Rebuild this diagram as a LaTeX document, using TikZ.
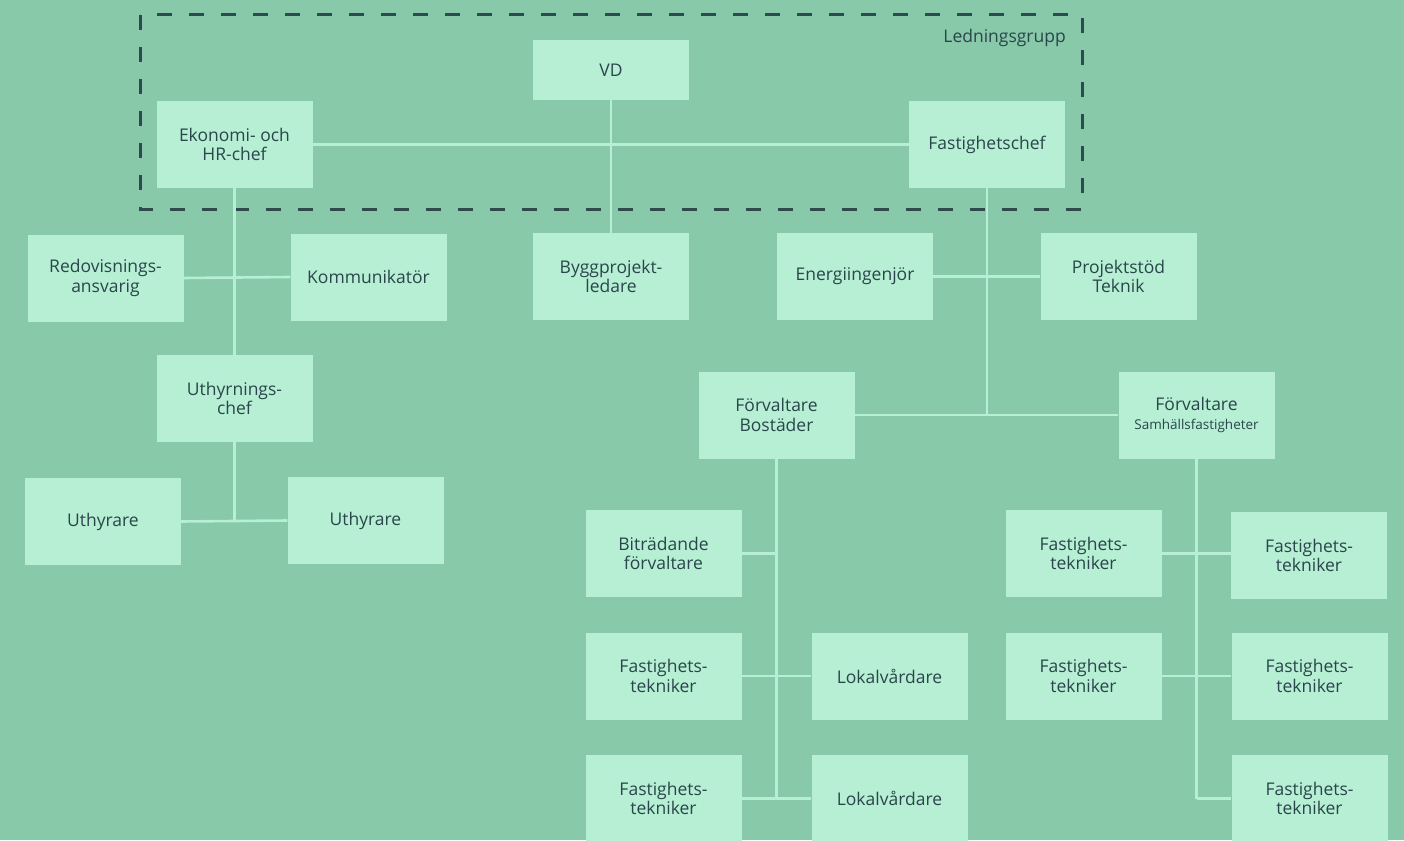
\documentclass[tikz,border=0pt]{standalone}
\usepackage{fontspec}
\setmainfont{Open Sans}
\definecolor{bg}{HTML}{88C9AA}
\definecolor{boxc}{HTML}{B6EFD4}
\definecolor{txt}{HTML}{2A454B}
\definecolor{dash}{HTML}{2F4A4F}
\tikzset{
  box/.style={rectangle, fill=boxc, minimum width=156pt, minimum height=87pt, inner sep=0pt,
    text=txt, align=center, font=\fontsize{17.5}{19.5}\selectfont},
  conn/.style={draw=boxc, line width=2.6pt},
  grp/.style={draw=dash, line width=3pt, dash pattern=on 15pt off 17pt},
}
\begin{document}
\begin{tikzpicture}[x=1pt,y=-1pt]
\fill[bg] (0,0) rectangle (1404,840);
\useasboundingbox (0,0) rectangle (1404,840);
\clip (0,0) rectangle (1404,840);
% group
\draw[grp] (140,15) rectangle (1082,209);
\node[anchor=base east, text=txt, font=\fontsize{17.5}{19.5}\selectfont, inner sep=0pt] (lg) at (1066,43) {Ledningsgrupp};
% nodes
\node[box, minimum height=60pt] (vd) at (611,70) {VD};
\node[box] (eko) at (234.5,144.5) {Ekonomi- och\\HR-chef};
\node[box] (fc) at (987,144.5) {Fastighetschef};
\node[box] (red) at (105.5,278) {Redovisnings-\\ansvarig};
\node[box] (kom) at (368.5,277) {Kommunikatör};
\node[box] (bygg) at (611,276.5) {Byggprojekt-\\ledare};
\node[box] (en) at (855,276.5) {Energiingenjör};
\node[box] (pt) at (1118.5,276.5) {Projektstöd\\Teknik};
\node[box] (uch) at (234.5,398.5) {Uthyrnings-\\chef};
\node[box] (ul) at (103,521.5) {Uthyrare};
\node[box] (ur) at (365.5,520.5) {Uthyrare};
\node[box] (fb) at (776.5,415) {Förvaltare\\Bostäder};
\node[box] (fs) at (1196.5,415) {Förvaltare\\{\fontsize{13.5}{15}\selectfont Samhällsfastigheter}};
\node[box] (bit) at (663.5,553.5) {Biträdande\\förvaltare};
\node[box] (l1t) at (663.5,676) {Fastighets-\\tekniker};
\node[box] (lv1) at (889.5,676) {Lokalvårdare};
\node[box] (l2t) at (663.5,798.5) {Fastighets-\\tekniker};
\node[box] (lv2) at (889.5,798.5) {Lokalvårdare};
\node[box] (r1a) at (1083.5,553.5) {Fastighets-\\tekniker};
\node[box] (r1b) at (1309,555.5) {Fastighets-\\tekniker};
\node[box] (r2a) at (1083.5,676) {Fastighets-\\tekniker};
\node[box] (r2b) at (1309.5,676) {Fastighets-\\tekniker};
\node[box] (r3) at (1309.5,798.5) {Fastighets-\\tekniker};
% connectors
\draw[conn] (vd.south) -- (bygg.north);
\draw[conn] (eko.east) -- (fc.west);
\draw[conn] (eko.south) -- (uch.north);
\draw[conn] (red.east) -- (kom.west);
\draw[conn] (uch.south) -- (uch.south |- ul.east);
\draw[conn] (ul.east) -- (ur.west);
\draw[conn] (fc.south) -- (fc.south |- fb.east);
\draw[conn] (en.east) -- (pt.west);
\draw[conn] (fb.east) -- (fs.west);
\draw[conn] (fb.south) -- (fb.south |- l2t.east);
\draw[conn] (bit.east) -- (bit.east -| fb.south);
\draw[conn] (l1t.east) -- (lv1.west);
\draw[conn] (l2t.east) -- (lv2.west);
\draw[conn] (fs.south) -- (fs.south |- r3.west);
\draw[conn] (r1a.east) -- (r1a.east -| r1b.west);
\draw[conn] (r2a.east) -- (r2b.west);
\draw[conn] (r3.west) -- (r3.west -| fs.south);
\end{tikzpicture}
\end{document}
